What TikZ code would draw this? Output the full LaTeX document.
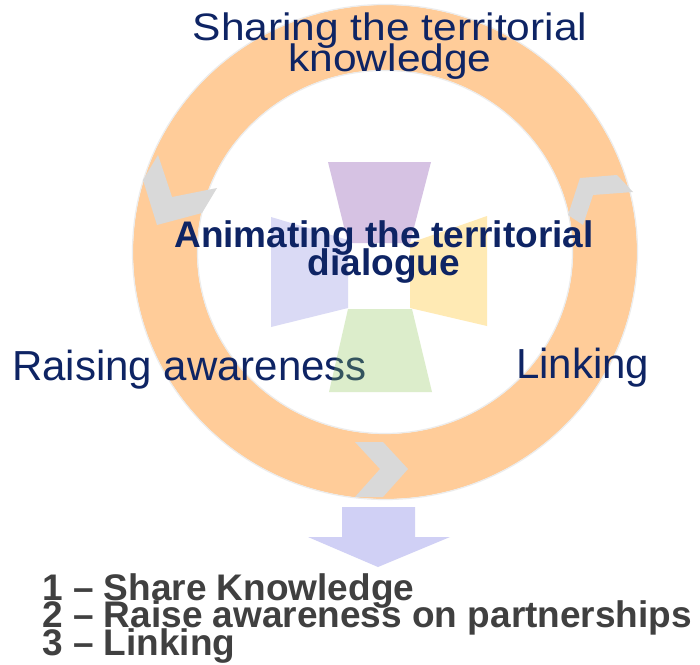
\documentclass[tikz,border=0pt]{standalone}
\usepackage{graphicx}
\usepackage{fontspec}
\setmainfont{Liberation Sans}
\definecolor{ringc}{RGB}{255,204,153}
\definecolor{ringedge}{RGB}{236,236,236}
\definecolor{chev}{RGB}{217,217,217}
\definecolor{navy}{RGB}{14,36,100}
\definecolor{greytext}{RGB}{64,64,64}
\definecolor{arrowc}{RGB}{208,208,245}
\definecolor{purp}{RGB}{214,194,227}
\definecolor{lav}{RGB}{218,218,245}
\definecolor{yell}{RGB}{255,234,180}
\definecolor{greenbase}{RGB}{142,198,85}
\tikzset{
  bigtxt/.style={inner sep=0pt, text=navy, font={\fontsize{42}{31}\selectfont}},
  toptxt/.style={inner sep=0pt, text=navy, font={\fontsize{42.5}{31}\selectfont}},
  midtxt/.style={inner sep=0pt, text=navy, font={\fontsize{37}{28}\selectfont\bfseries}},
  listtxt/.style={inner sep=0pt, text=greytext, font={\fontsize{37}{28}\selectfont\bfseries}},
  chevshape/.style={fill=chev, draw=none},
}
\begin{document}
\begin{tikzpicture}[x=1pt,y=-1pt]
\useasboundingbox (0,0) rectangle (700,664);
\fill[white] (0,0) rectangle (700,664);
% ring
\fill[ringc, even odd rule] (385,252) ellipse [x radius=252pt, y radius=247pt]
  (385,252) ellipse [x radius=188pt, y radius=182pt];
\draw[ringedge, line width=1.2pt] (385,252) ellipse [x radius=252.5pt, y radius=247.5pt];
\draw[ringedge, line width=1.2pt] (385,252) ellipse [x radius=187.5pt, y radius=181.5pt];
% chevrons
\fill[chevshape] (158,155) -- (172,197) -- (217,188) -- (202,213) -- (157,225) -- (143,180) -- cycle;
\fill[chevshape] (580,178) -- (617,175) -- (633,192) -- (593,195) -- (583,225) -- (568,215) -- cycle;
\fill[chevshape] (355,442) -- (383,442) -- (408,469) -- (383,497) -- (355,497) -- (380,469) -- cycle;
% bottom arrow
\fill[arrowc] (342,507) -- (415,507) -- (415,537) -- (450,537) -- (378,567) -- (308,537) -- (342,537) -- cycle;
% cross shapes
\fill[purp] (328,162) -- (431,162) -- (410,243) -- (348,243) -- cycle;
\fill[lav] (271,217) -- (348,240) -- (348,308) -- (271,327) -- cycle;
\fill[yell] (487,216) -- (410,243) -- (410,308) -- (487,326) -- cycle;
% outer labels
\node[toptxt, anchor=base] (share1) at (390,40) {\scalebox{1}[0.9]{Sharing the territorial}};
\node[toptxt, anchor=base] (share2) at (390,71) {\scalebox{1}[0.9]{knowledge}};
\node[bigtxt, anchor=base west] (raise) at (12,380) {Raising awareness};
\node[bigtxt, anchor=base west] (link) at (516,378) {Linking};
% green shape over text
\fill[greenbase, fill opacity=0.3] (348,309) -- (412,309) -- (432,392) -- (329,392) -- cycle;
% centre label
\node[midtxt, anchor=base] (anim1) at (384,247) {Animating the territorial};
\node[midtxt, anchor=base] (anim2) at (384,275) {dialogue};
% list
\node[listtxt, anchor=base west] (l1) at (42,600) {1 – Share Knowledge};
\node[listtxt, anchor=base west] (l2) at (42,627.5) {2 – Raise awareness on partnerships};
\node[listtxt, anchor=base west] (l3) at (42,655.5) {3 – Linking};
\end{tikzpicture}
\end{document}
